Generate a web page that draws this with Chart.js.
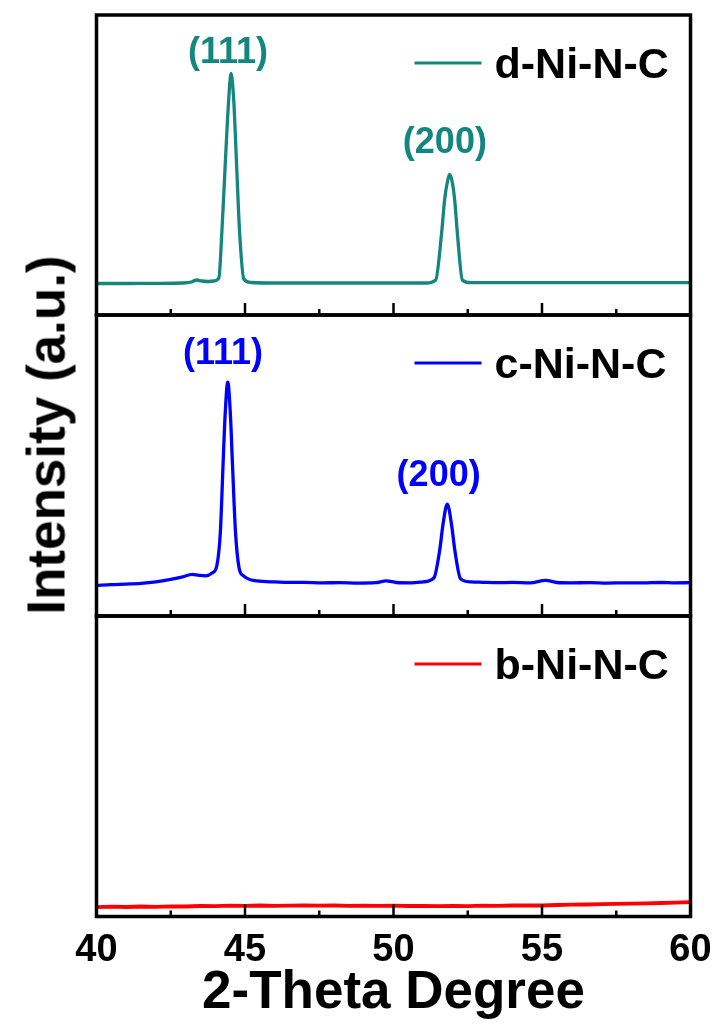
<!DOCTYPE html>
<html>
<head>
<meta charset="utf-8">
<script src="https://cdn.jsdelivr.net/npm/chart.js@4.4.1/dist/chart.umd.min.js"></script>
<style>
  html, body { margin: 0; padding: 0; background: #fff; }
  #wrap { position: relative; width: 714px; height: 1030px; overflow: hidden; }
  #wrap canvas { position: absolute; left: 0; top: 0; }
  #ytitle {
    position: absolute; left: 46px; top: 435px;
    transform: translate(-50%, -50%) rotate(-90deg);
    font: bold 53px "Liberation Sans", Arial, sans-serif;
    line-height: 1; white-space: nowrap; color: #000;
  }
</style>
</head>
<body>
<div id="wrap">
  <canvas id="c1" width="714" height="1030"></canvas>
  <canvas id="c2" width="714" height="1030"></canvas>
  <canvas id="c3" width="714" height="1030"></canvas>
  <div id="ytitle">Intensity (a.u.)</div>
</div>
<script>
// ---------------- data ----------------
const xMin = 40, xMax = 60;
const xTickStep = 2.5;
const xTitle = '2-Theta Degree';

const labelD = 'd-Ni-N-C';
const thetaD = [40, 41, 42, 42.9, 43.2, 43.37, 43.55, 43.73, 43.95, 44.12, 44.22, 44.33, 44.45, 44.53, 44.62, 44.72, 44.82, 44.96, 45.2, 46, 48, 50, 51.1, 51.42, 51.62, 51.72, 51.82, 51.89, 51.97, 52.06, 52.15, 52.32, 52.6, 54, 56, 58, 60];
const intD   = [31.5, 31.5, 31.7, 32, 33, 35, 34, 33.5, 34, 37, 82, 148, 215, 241.5, 215, 148, 82, 36, 32.5, 32, 32, 32, 32, 35, 82, 115, 134, 140.5, 134, 115, 82, 35, 32.3, 32.3, 32.3, 32.3, 32.3];
const peaksD = [
  { text: '(111)', x: 44.43, y: 251.7 },
  { text: '(200)', x: 51.73, y: 161.7 }
];

const labelC = 'c-Ni-N-C';
const thetaC = [40, 40.5, 41, 41.5, 42, 42.5, 42.9, 43.22, 43.45, 43.67, 43.9, 44.05, 44.17, 44.26, 44.33, 44.42, 44.51, 44.58, 44.68, 44.8, 44.95, 45.4, 46, 46.5, 47, 47.6, 48.2, 48.8, 49.4, 49.75, 50.1, 50.6, 51.0, 51.36, 51.56, 51.66, 51.81, 51.96, 52.06, 52.26, 52.6, 53, 53.5, 54, 54.6, 55.12, 55.5, 56, 56.6, 57.2, 57.8, 58.4, 59, 59.5, 60];
const intC   = [30.5, 31.3, 31.8, 32.5, 34, 36.5, 39, 41.5, 40.5, 40, 43, 50, 83.5, 150, 200, 233, 200, 150, 83.5, 48, 40, 35, 34, 33.5, 33.6, 33, 33.3, 32.8, 33.2, 35, 33.4, 33, 34, 38, 66.5, 90, 111.5, 90, 66.5, 37, 34, 33.6, 33.2, 33.5, 33, 35.5, 33.4, 33, 33.3, 32.8, 33.1, 33, 33.4, 33, 33.2];
const peaksC = [
  { text: '(111)', x: 44.26, y: 251.5 },
  { text: '(200)', x: 51.52, y: 129.8 }
];

const labelB = 'b-Ni-N-C';
const thetaB = [40, 40.5, 41, 41.5, 42, 42.5, 43, 43.5, 44, 44.5, 45, 45.5, 46, 46.5, 47, 47.5, 48, 48.5, 49, 49.5, 50, 50.5, 51, 51.5, 52, 52.5, 53, 53.5, 54, 54.5, 55, 55.5, 56, 56.5, 57, 57.5, 58, 58.5, 59, 59.5, 60];
const intB   = [9.3, 9.8, 9.5, 10.0, 9.7, 10.2, 10.0, 10.5, 10.3, 10.8, 10.6, 11.0, 10.7, 10.9, 11.1, 10.8, 11.0, 10.7, 10.9, 10.6, 10.8, 10.5, 10.7, 10.3, 10.6, 10.4, 10.8, 10.6, 11.0, 11.2, 11.0, 11.5, 11.8, 12.0, 12.3, 12.6, 12.8, 13.2, 13.5, 13.9, 14.4];
const peaksB = [];

// ---------------- styling ----------------
const FONT = '"Liberation Sans", Arial, Helvetica, sans-serif';
Chart.defaults.font.family = FONT;
Chart.defaults.color = '#000';

const colD = '#13877f';
const colC = '#0000ff';
const colB = '#ff0000';

function pts(xs, ys) { return xs.map((v, i) => ({ x: v, y: ys[i] })); }

const panelDeco = {
  id: 'panelDeco',
  afterDatasetsDraw(chart, args, opts) {
    const { ctx, chartArea: a } = chart;
    const xs = chart.scales.x, ys = chart.scales.y;
    ctx.save();
    // inward ticks on bottom edge
    ctx.strokeStyle = '#000';
    ctx.lineWidth = 2.5;
    xs.ticks.forEach(t => {
      const px = xs.getPixelForValue(t.value);
      const major = Math.abs(t.value % 5) < 1e-6;
      const len = major ? 12 : 6;
      ctx.beginPath();
      ctx.moveTo(px, a.bottom);
      ctx.lineTo(px, a.bottom - len);
      ctx.stroke();
    });
    // frame
    ctx.lineWidth = 3.5;
    ctx.strokeRect(a.left, a.top, a.right - a.left, a.bottom - a.top);
    // legend entry
    const ds = chart.data.datasets[0];
    const ly = a.top + 48;
    ctx.strokeStyle = ds.borderColor;
    ctx.lineWidth = 3;
    ctx.beginPath();
    ctx.moveTo(a.right - 276, ly);
    ctx.lineTo(a.right - 209, ly);
    ctx.stroke();
    ctx.fillStyle = '#000';
    ctx.font = 'bold 43px ' + FONT;
    ctx.textAlign = 'left';
    ctx.textBaseline = 'alphabetic';
    ctx.fillText(ds.label, a.right - 196, ly + 15);
    // peak labels
    ctx.fillStyle = ds.borderColor;
    ctx.font = 'bold 36px ' + FONT;
    ctx.textAlign = 'center';
    (opts.peaks || []).forEach(p => {
      ctx.fillText(p.text, xs.getPixelForValue(p.x), ys.getPixelForValue(p.y));
    });
    ctx.restore();
  }
};

function makeChart(id, label, xs, ys, color, peaks, pad, showAxis, lw, smooth) {
  return new Chart(document.getElementById(id), {
    type: 'line',
    data: {
      datasets: [{
        label: label,
        data: pts(xs, ys),
        borderColor: color,
        backgroundColor: color,
        borderWidth: lw,
        pointRadius: 0,
        fill: false,
        cubicInterpolationMode: smooth ? 'monotone' : 'default',
        tension: smooth ? 0.4 : 0
      }]
    },
    options: {
      responsive: false,
      animation: false,
      events: [],
      layout: { padding: pad },
      plugins: {
        legend: { display: false },
        tooltip: { enabled: false },
        panelDeco: { peaks: peaks }
      },
      scales: {
        x: {
          type: 'linear',
          min: xMin, max: xMax,
          display: showAxis,
          grid: { display: false, drawTicks: false },
          border: { display: false },
          ticks: {
            stepSize: xTickStep,
            autoSkip: false,
            maxRotation: 0,
            padding: 11,
            color: '#000',
            font: { size: 38, weight: 'bold' },
            callback: v => (Math.abs(v % 5) < 1e-6 ? String(v) : '')
          },
          title: {
            display: showAxis,
            text: xTitle,
            color: '#000',
            font: { size: 53, weight: 'bold' },
            padding: { top: 0, bottom: 5 }
          },
          afterFit: s => {
            if (showAxis) s.height = 113.5;
            s.paddingLeft = 0;
            s.paddingRight = 0;
          }
        },
        y: {
          type: 'linear',
          min: 0, max: 300,
          display: false
        }
      }
    },
    plugins: [panelDeco]
  });
}

makeChart('c1', labelD, thetaD, intD, colD, peaksD,
  { left: 96.5, right: 23.5, top: 15, bottom: 1030 - 315 }, false, 3.3, true);
makeChart('c2', labelC, thetaC, intC, colC, peaksC,
  { left: 96.5, right: 23.5, top: 315, bottom: 1030 - 616 }, false, 3.3, true);
makeChart('c3', labelB, thetaB, intB, colB, peaksB,
  { left: 96.5, right: 23.5, top: 616, bottom: 0 }, true, 3.8, false);
</script>
</body>
</html>
